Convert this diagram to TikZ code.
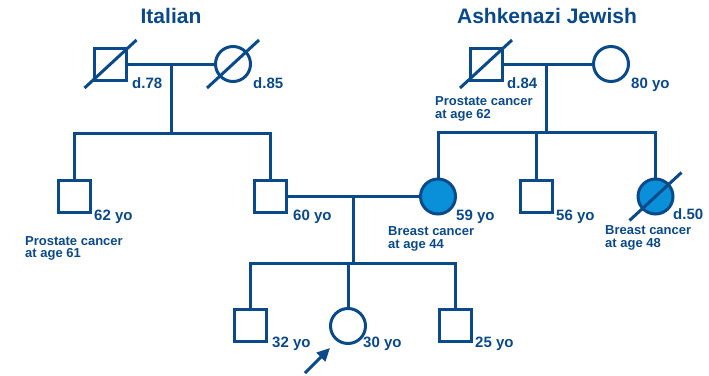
\documentclass[tikz,border=0pt]{standalone}
\usepackage{fontspec}
\setmainfont{Liberation Sans}
\usetikzlibrary{arrows.meta}
\definecolor{lineBlue}{HTML}{0A4A8A}
\definecolor{fillBlue}{HTML}{0A90D8}
\definecolor{bgColor}{HTML}{FFFFFF}
\begin{document}
\begin{tikzpicture}
\tikzset{x=1pt,y=-1pt,
  male/.style={draw=lineBlue, line width=3pt, rectangle, minimum size=32pt, inner sep=0pt},
  female/.style={draw=lineBlue, line width=3pt, circle, minimum size=35pt, inner sep=0pt},
  affected/.style={fill=fillBlue},
  link/.style={draw=lineBlue, line width=3pt},
  age/.style={text=lineBlue, anchor=base west, inner sep=0pt, font=\bfseries\fontsize{15}{15}\selectfont},
  note/.style={text=lineBlue, anchor=north west, inner sep=0pt, align=left, font=\bfseries\fontsize{13}{12.5}\selectfont},
  title/.style={text=lineBlue, anchor=base, inner sep=0pt, font=\bfseries\fontsize{21}{21}\selectfont}}
\useasboundingbox (0,0) rectangle (709,375);
\fill[bgColor] (0,0) rectangle (709,375);
\node[title] (titleI) at (171, 23) {Italian};
\node[title] (titleA) at (547, 23) {Ashkenazi Jewish};
% grandparents
\node[male] (gfI) at (110.5, 64) {};
\node[female] (gmI) at (233, 64) {};
\node[male] (gfA) at (486, 64) {};
\node[female] (gmA) at (611, 64) {};
% parents generation
\node[male] (uncleI) at (74.5, 196.5) {};
\node[male] (father) at (270, 196.5) {};
\node[female, affected] (mother) at (438, 196.5) {};
\node[male] (uncleA) at (536, 196.5) {};
\node[female, affected] (auntA) at (655.5, 196.5) {};
% children
\node[male] (son1) at (250.5, 325.5) {};
\node[female] (proband) at (348, 326) {};
\node[male] (son2) at (455, 325.5) {};
% deceased
\foreach \p in {gfI, gmI, gfA, auntA}
  \draw[link] ([shift={(-26,24)}]\p.center) -- ([shift={(26,-24)}]\p.center);
\coordinate (mI) at (171, 64);
\coordinate (sI) at (171, 133);
\coordinate (mA) at (546, 64);
\coordinate (sA) at (546, 132);
\coordinate (mP) at (353, 196.5);
\coordinate (sP) at (353, 263);
\draw[link] (gfI) -- (gmI);
\draw[link] (mI) -- (sI);
\draw[link] (uncleI.north) |- (sI) -| (father.north);
\draw[link] (gfA) -- (gmA);
\draw[link] (mA) -- (sA);
\draw[link] (mother.north) |- (sA) -| (auntA.north);
\draw[link] (uncleA.north) -- (uncleA.north |- sA);
\draw[link] (father) -- (mother);
\draw[link] (mP) -- (sP);
\draw[link] (son1.north) |- (sP) -| (son2.north);
\draw[link] (proband.north) -- (proband.north |- sP);
\coordinate (arrTail) at (305, 373);
\coordinate (arrTip) at (330, 348);
\draw[link, -{Triangle[length=13pt, width=12pt]}] (arrTail) -- (arrTip);
% labels
\node[age] (lgfI) at (132, 88) {d.78};
\node[age] (lgmI) at (253, 88) {d.85};
\node[age] (lgfA) at (507, 88) {d.84};
\node[age] (lgmA) at (631, 88) {80 yo};
\node[note] (ngfA) at (435, 96.5) {Prostate cancer\\at age 62};
\node[age] (luncleI) at (94, 220) {62 yo};
\node[note] (nuncleI) at (25, 236) {Prostate cancer\\at age 61};
\node[age] (lfather) at (293, 220) {60 yo};
\node[age] (lmother) at (456, 220) {59 yo};
\node[note] (nmother) at (388, 226.5) {Breast cancer\\at age 44};
\node[age] (luncleA) at (556, 220) {56 yo};
\node[age] (launtA) at (673, 219) {d.50};
\node[note] (nauntA) at (605, 225.5) {Breast cancer\\at age 48};
\node[age] (lson1) at (272, 347) {32 yo};
\node[age] (lproband) at (363, 347) {30 yo};
\node[age] (lson2) at (475, 347) {25 yo};
\end{tikzpicture}
\end{document}
